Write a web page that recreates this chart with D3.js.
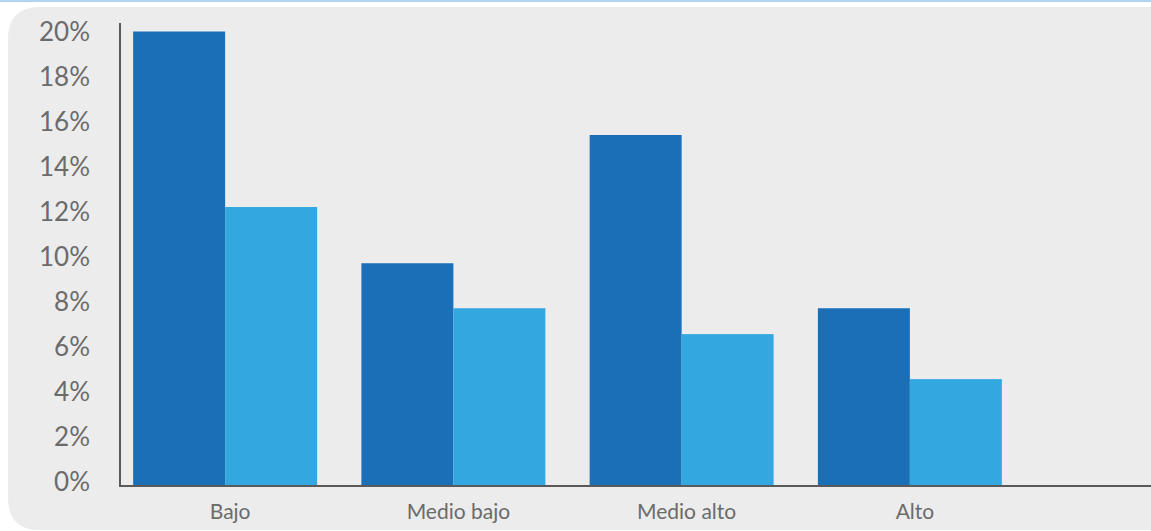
<!DOCTYPE html>
<html>
<head>
<meta charset="utf-8">
<script src="https://cdn.jsdelivr.net/npm/d3@7"></script>
<style>
  html, body { margin: 0; padding: 0; background: #fff; }
  svg { display: block; font-family: Lato, "Open Sans", sans-serif; }
</style>
</head>
<body>
<div id="chart"></div>
<script>
// Data
const categories = ["Bajo", "Medio bajo", "Medio alto", "Alto"];
const series     = ["a", "b"];
const valuesA    = [20.2, 9.9, 15.6, 7.9];
const valuesB    = [12.4, 7.9, 6.75, 4.75];
const yTicks     = [0, 2, 4, 6, 8, 10, 12, 14, 16, 18, 20];

const W = 1151, H = 531;
const COLOR = { a: "#1b6fb7", b: "#33a8e0" };
const INK = "#6b6b6b";

const svg = d3.select("#chart").append("svg")
  .attr("width", W).attr("height", H).attr("viewBox", `0 0 ${W} ${H}`);

// top thin line + gray rounded panel
svg.append("rect").attr("x", 0).attr("y", 0).attr("width", W).attr("height", 2).attr("fill", "#aed6f1");
svg.append("path").attr("fill", "#ececec")
  .attr("d", `M${W},7 H40 Q8,7 8,39 V498 Q8,530 40,530 H${W} Z`);

const x0 = d3.scaleBand().domain(categories).range([111, 1024]).paddingInner(0.194).paddingOuter(0.097);
const x1 = d3.scaleBand().domain(series).range([0, x0.bandwidth()]);
const y  = d3.scaleLinear().domain([0, 20]).range([486, 36]);

const rows = categories.map((c, i) => ({ cat: c, vals: [
  { s: "a", v: valuesA[i] }, { s: "b", v: valuesB[i] }
]}));

// Bars
const grp = svg.append("g").selectAll("g").data(rows).join("g")
  .attr("transform", d => `translate(${x0(d.cat)},0)`);
grp.selectAll("rect").data(d => d.vals).join("rect")
  .attr("x", d => x1(d.s)).attr("width", x1.bandwidth())
  .attr("y", d => y(d.v)).attr("height", d => y(0) - y(d.v))
  .attr("fill", d => COLOR[d.s]);

// Axes lines
svg.append("line").attr("x1", 120).attr("x2", 120).attr("y1", 23).attr("y2", 487)
  .attr("stroke", "#5a5a5a").attr("stroke-width", 2);
svg.append("line").attr("x1", 119).attr("x2", W).attr("y1", y(0)).attr("y2", y(0))
  .attr("stroke", "#5a5a5a").attr("stroke-width", 2);

// Y tick labels
const yAxis = svg.append("g").attr("transform", "translate(90,-5)")
  .call(d3.axisLeft(y).tickValues(yTicks).tickSize(0).tickPadding(0).tickFormat(d => d + "%"));
yAxis.select(".domain").remove();
yAxis.selectAll("text").attr("font-size", 26).attr("fill", INK)
  .attr("font-family", "Lato, sans-serif")
  .attr("dy", "0.36em");

// X category labels
const xAxis = svg.append("g").attr("transform", `translate(5,${y(0)})`)
  .call(d3.axisBottom(x0).tickSize(0).tickPadding(18));
xAxis.select(".domain").remove();
xAxis.selectAll("text").attr("font-size", 21).attr("fill", INK)
  .attr("font-family", "Lato, sans-serif");
</script>
</body>
</html>
